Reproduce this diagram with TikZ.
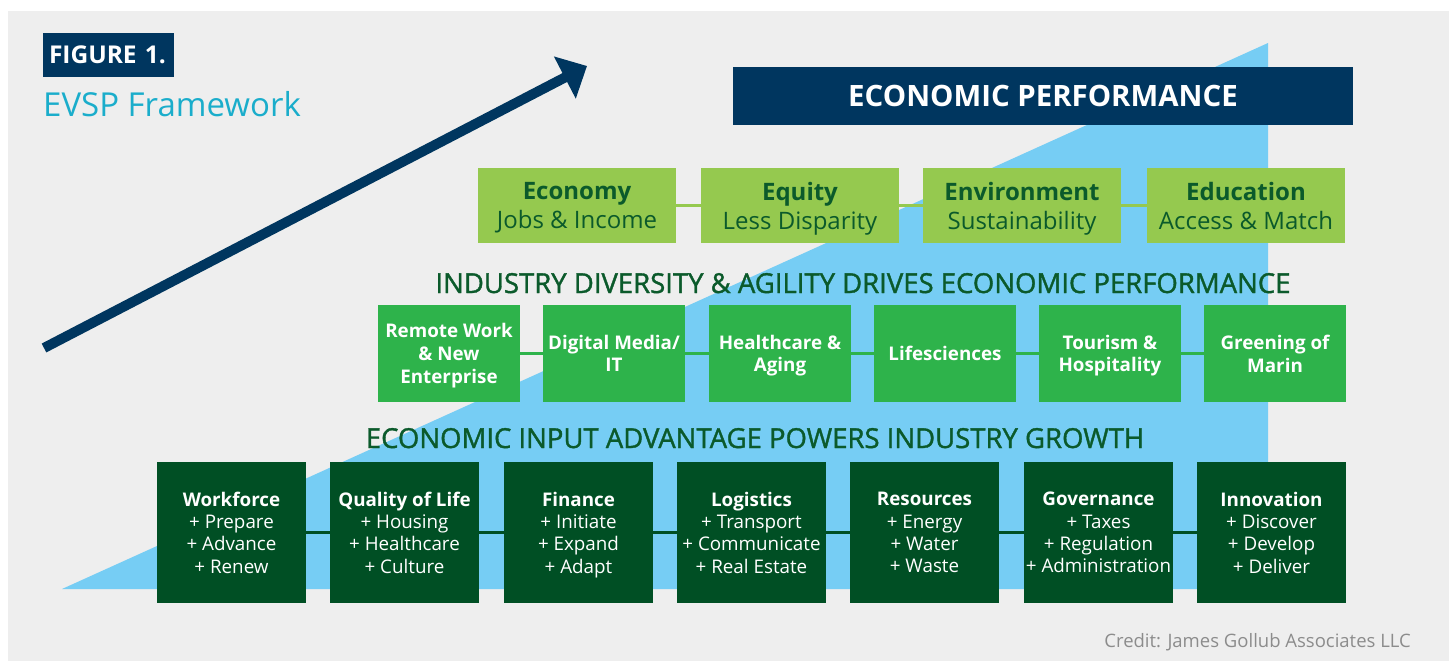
\documentclass[tikz,border=0pt]{standalone}
\usepackage{fontspec}
\setmainfont{Open Sans}
\newfontfamily\semib[FakeBold=1.3]{Open Sans}
\usepackage{tikz}
\usetikzlibrary{arrows.meta}
\usepackage{xcolor}
\definecolor{blunotte}{HTML}{00365F}
\definecolor{ciano}{HTML}{1AADCB}
\definecolor{cielo}{HTML}{76CDF4}
\definecolor{grigiosfondo}{HTML}{EEEEEE}
\definecolor{grigiotesto}{HTML}{8C8C8C}
\definecolor{verdechiaro}{HTML}{95C94F}
\definecolor{verdemedio}{HTML}{2EB34B}
\definecolor{verdescuro}{HTML}{004F24}
\definecolor{verdetesto}{HTML}{0B5A2B}

\begin{document}
\begin{tikzpicture}[x = 1pt, y = -1pt,
    riquadro/.style = {anchor = north west, inner sep = 0pt, outer sep = 0pt, align = center},
    obiettivo/.style = {riquadro, fill = verdechiaro, text = verdetesto, minimum width = 198pt, minimum height = 75pt, font = \fontsize{24}{29}\selectfont, text depth = -2.5pt},
    settore/.style = {riquadro, fill = verdemedio, text = white, minimum width = 142pt, minimum height = 97pt, font = \bfseries\fontsize{18.8}{22.7}\selectfont, text depth = -4pt},
    fattore/.style = {riquadro, fill = verdescuro, text = white, minimum width = 149pt, minimum height = 141pt, font = \fontsize{18.8}{22.4}\selectfont, text depth = -0.5pt},
    intestazione/.style = {anchor = base, inner sep = 0pt, text = verdetesto, font = \semib\fontsize{27.5}{32}\selectfont},
    legame/.style = {line width = 3pt}]
    % Parametri
    \pgfmathsetmacro{\larg}{1449}
    \pgfmathsetmacro{\alt}{661}
    \pgfmathsetmacro{\base}{589}
    \pgfmathsetmacro{\cima}{43}

    % Sfondo
    \useasboundingbox (0,0) rectangle (\larg,\alt);
    \fill[white] (0,0) rectangle (\larg,\alt);
    \fill[grigiosfondo] (8,11) rectangle (\larg,\alt);

    % Triangolo di crescita
    \fill[cielo] (62,\base) -- (1268,\base) -- (1268,\cima) -- cycle;

    % Titolo
    \node[riquadro, fill = blunotte, text = white, inner xsep = 6pt, text width = 119pt, align = left, minimum height = 44pt, font = \bfseries\fontsize{24.5}{28}\selectfont] (figura) at (43,33) {FIGURE 1.};
    \node[anchor = base west, inner sep = 0pt, text = ciano, font = \fontsize{33}{38}\selectfont] (titolo) at (43,116) {EVSP Framework};

    % Freccia
    \coordinate (coda) at (44,348);
    \coordinate (punta) at (587,66);
    \draw[blunotte, line width = 10pt, -{Triangle[length = 25pt, width = 46pt]}] (coda) -- (punta);

    % Prestazione economica
    \node[riquadro, fill = blunotte, text = white, minimum width = 620pt, minimum height = 58pt, font = \bfseries\fontsize{29.4}{34}\selectfont] (prestazione) at (733,67) {ECONOMIC PERFORMANCE};

    % Obiettivi
    \node[obiettivo] (economia) at (478,168) {\textbf{Economy}\\Jobs \& Income};
    \node[obiettivo] (equita) at (701,168) {\textbf{Equity}\\Less Disparity};
    \node[obiettivo] (ambiente) at (923,168) {\textbf{Environment}\\Sustainability};
    \node[obiettivo] (istruzione) at (1147,168) {\textbf{Education}\\Access \& Match};
    \draw[legame, verdechiaro] (economia) -- (equita);
    \draw[legame, verdechiaro] (equita) -- (ambiente);
    \draw[legame, verdechiaro] (ambiente) -- (istruzione);

    % Settori
    \node[intestazione] (titolosettori) at (863,293) {INDUSTRY DIVERSITY \& AGILITY DRIVES ECONOMIC PERFORMANCE};
    \node[settore] (remoto) at (378,305) {Remote Work\\\& New\\Enterprise};
    \node[settore] (digitale) at (543,305) {Digital Media/\\IT};
    \node[settore] (sanita) at (709,305) {Healthcare \&\\Aging};
    \node[settore] (scienze) at (874,305) {Lifesciences};
    \node[settore] (turismo) at (1039,305) {Tourism \&\\Hospitality};
    \node[settore] (verde) at (1204,305) {Greening of\\Marin};
    \draw[legame, verdemedio] (remoto) -- (digitale);
    \draw[legame, verdemedio] (digitale) -- (sanita);
    \draw[legame, verdemedio] (sanita) -- (scienze);
    \draw[legame, verdemedio] (scienze) -- (turismo);
    \draw[legame, verdemedio] (turismo) -- (verde);

    % Fattori
    \node[intestazione] (titolofattori) at (755,448) {ECONOMIC INPUT ADVANTAGE POWERS INDUSTRY GROWTH};
    \node[fattore] (lavoro) at (157,462) {\textbf{Workforce}\\+ Prepare\\+ Advance\\+ Renew};
    \node[fattore] (vita) at (330,462) {\textbf{Quality of Life}\\+ Housing\\+ Healthcare\\+ Culture};
    \node[fattore] (finanza) at (504,462) {\textbf{Finance}\\+ Initiate\\+ Expand\\+ Adapt};
    \node[fattore] (logistica) at (677,462) {\textbf{Logistics}\\+ Transport\\+ Communicate\\+ Real Estate};
    \node[fattore] (risorse) at (850,462) {\textbf{Resources}\\+ Energy\\+ Water\\+ Waste};
    \node[fattore] (governo) at (1024,462) {\textbf{Governance}\\+ Taxes\\+ Regulation\\+ Administration};
    \node[fattore] (innovazione) at (1197,462) {\textbf{Innovation}\\+ Discover\\+ Develop\\+ Deliver};
    \draw[legame, verdescuro] (lavoro) -- (vita);
    \draw[legame, verdescuro] (vita) -- (finanza);
    \draw[legame, verdescuro] (finanza) -- (logistica);
    \draw[legame, verdescuro] (logistica) -- (risorse);
    \draw[legame, verdescuro] (risorse) -- (governo);
    \draw[legame, verdescuro] (governo) -- (innovazione);

    % Credito
    \node[anchor = base east, inner sep = 0pt, text = grigiotesto, font = \fontsize{18.5}{22}\selectfont] (credito) at (1411,647) {Credit: James Gollub Associates LLC};
\end{tikzpicture}
\end{document}
